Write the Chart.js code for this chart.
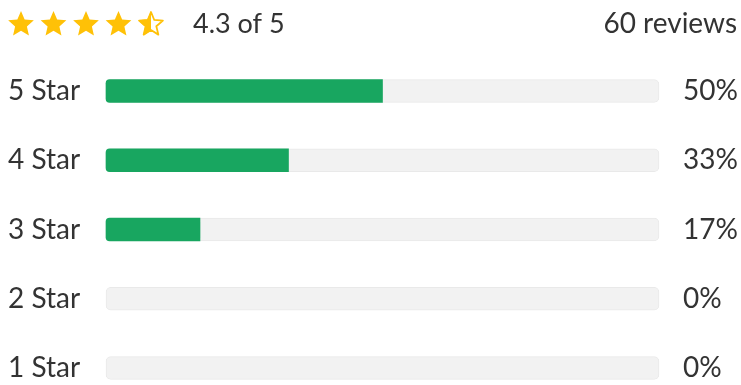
<!DOCTYPE html>
<html>
<head>
<meta charset="utf-8">
<script src="https://cdn.jsdelivr.net/npm/chart.js@4"></script>
<style>
  html, body { margin: 0; padding: 0; background: #fff; }
  #wrap { width: 741px; height: 385px; position: relative; }
</style>
</head>
<body>
<div id="wrap"><canvas id="ratings"></canvas></div>
<script>
// rating breakdown
const starLabels = ['5 Star', '4 Star', '3 Star', '2 Star', '1 Star'];
const starValues = [5, 4, 3, 2, 1];
const reviewCounts = [30, 20, 10, 0, 0];

const totalReviews = reviewCounts.reduce((a, b) => a + b, 0);
const percents = reviewCounts.map(c => Math.round(c / totalReviews * 100));
const percentLabels = percents.map(p => p + '%');
const average = reviewCounts.reduce((s, c, i) => s + c * starValues[i], 0) / totalReviews;

const TEXT = '#333333';
const GREEN = '#18a660';
const TRACK = '#f2f2f2';
const STAR = '#ffc107';
const FONT = 'Lato, "Open Sans", sans-serif';

function starPath(ctx, cx, cy, R, r) {
    ctx.beginPath();
    for (let i = 0; i < 10; i++) {
        const rad = i % 2 === 0 ? R : r;
        const a = -Math.PI / 2 + i * Math.PI / 5;
        const x = cx + rad * Math.cos(a);
        const y = cy + rad * Math.sin(a);
        if (i === 0) ctx.moveTo(x, y); else ctx.lineTo(x, y);
    }
    ctx.closePath();
}

// stars, average and review count above the bars
const headerPlugin = {
    id: 'header',
    afterDraw(chart) {
        const ctx = chart.ctx;
        ctx.save();
        const rating = Math.round(average * 2) / 2;
        const R = 13.5, r = 6.2, cy = 24.5;
        for (let i = 0; i < 5; i++) {
            const cx = 21 + i * 32.5;
            ctx.fillStyle = STAR;
            ctx.strokeStyle = STAR;
            ctx.lineJoin = 'round';
            if (rating >= i + 1) {
                starPath(ctx, cx, cy, R, r);
                ctx.fill();
            } else if (rating >= i + 0.5) {
                ctx.lineWidth = 1.8;
                starPath(ctx, cx, cy, R - 1, r - 0.6);
                ctx.stroke();
                ctx.save();
                ctx.beginPath();
                ctx.rect(cx - R - 2, cy - R - 2, R + 2, 2 * R + 4);
                ctx.clip();
                starPath(ctx, cx, cy, R, r);
                ctx.fill();
                ctx.restore();
            } else {
                ctx.lineWidth = 1.8;
                starPath(ctx, cx, cy, R - 1, r - 0.6);
                ctx.stroke();
            }
        }
        ctx.fillStyle = TEXT;
        ctx.font = '27px ' + FONT;
        ctx.textBaseline = 'middle';
        ctx.textAlign = 'left';
        ctx.fillText(average.toFixed(1) + ' of 5', 193, 24);
        ctx.font = '28px ' + FONT;
        ctx.textAlign = 'right';
        ctx.fillText(totalReviews + ' reviews', 737, 24);
        ctx.restore();
    }
};

// keep first/last rows pinned to the layout padding
function fixedWidth(w) {
    return function (scale) {
        scale.width = w;
        scale.paddingTop = 0;
        scale.paddingBottom = 0;
    };
}

const ctx = document.getElementById('ratings').getContext('2d');
new Chart(ctx, {
    type: 'bar',
    data: {
        labels: starLabels,
        datasets: [{
            label: 'Share',
            data: percents,
            backgroundColor: c => (c.raw > 0 ? GREEN : 'rgba(0,0,0,0)'),
            borderWidth: 0,
            borderRadius: { topLeft: 4, bottomLeft: 4, topRight: 0, bottomRight: 0 },
            borderSkipped: false,
            barThickness: 23,
            grouped: false,
            clip: false,
            order: 0
        }, {
            label: 'Track',
            data: starLabels.map(() => 100),
            backgroundColor: TRACK,
            borderColor: '#e9e9e9',
            borderWidth: 1,
            borderRadius: 5,
            borderSkipped: false,
            barThickness: 23,
            grouped: false,
            clip: false,
            order: 1
        }]
    },
    options: {
        indexAxis: 'y',
        responsive: true,
        maintainAspectRatio: false,
        animation: false,
        layout: { padding: { top: 91, bottom: 17, left: 8, right: 0 } },
        scales: {
            x: { display: false, min: 0, max: 100 },
            y: {
                position: 'left',
                offset: false,
                grid: { display: false, drawTicks: false },
                border: { display: false },
                ticks: {
                    crossAlign: 'far',
                    padding: 0,
                    color: TEXT,
                    font: { family: FONT, size: 28 }
                },
                afterFit: fixedWidth(98)
            },
            y2: {
                type: 'category',
                labels: percentLabels,
                position: 'right',
                offset: false,
                grid: { display: false, drawTicks: false },
                border: { display: false },
                ticks: {
                    crossAlign: 'near',
                    padding: 24,
                    color: TEXT,
                    font: { family: FONT, size: 28 }
                },
                afterFit: fixedWidth(82)
            }
        },
        plugins: {
            legend: { display: false },
            tooltip: { enabled: false }
        }
    },
    plugins: [headerPlugin]
});
</script>
</body>
</html>
